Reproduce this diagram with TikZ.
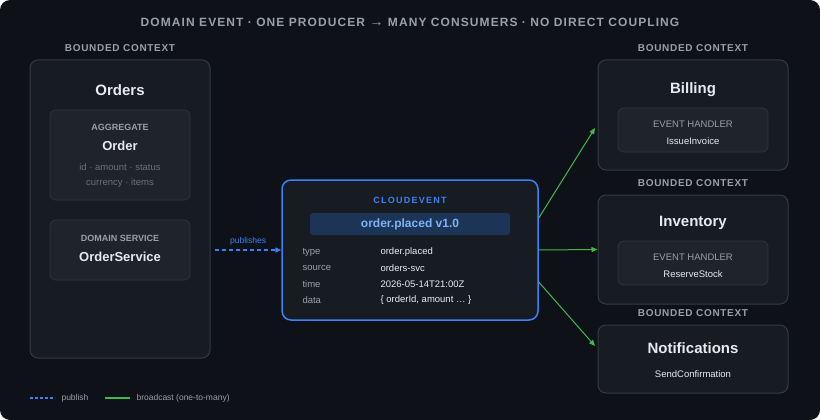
\documentclass[tikz,border=0pt]{standalone}
\usepackage{fontspec}
\setmainfont{Liberation Sans}
\usetikzlibrary{arrows.meta}
\definecolor{bg}{HTML}{0E1118}
\definecolor{ctx}{HTML}{171B22}
\definecolor{ctxb}{HTML}{353A42}
\definecolor{inner}{HTML}{1F232A}
\definecolor{innerb}{HTML}{30353D}
\definecolor{lab}{HTML}{9AA0A8}
\definecolor{dim}{HTML}{6B7179}
\definecolor{wt}{HTML}{E8EAED}
\definecolor{blu}{HTML}{3B82F6}
\definecolor{pill}{HTML}{1C3556}
\definecolor{pillt}{HTML}{7DB3F7}
\definecolor{grn}{HTML}{3FB950}
\begin{document}
\begin{tikzpicture}[x=1pt,y=-1pt,
 ctxbox/.style={draw=ctxb,fill=ctx,rounded corners=8pt,line width=1pt},
 inbox/.style={draw=innerb,fill=inner,rounded corners=6pt,line width=0.8pt},
 bclab/.style={font=\fontsize{10}{12}\selectfont\bfseries,text=lab},
 ttl/.style={font=\fontsize{15}{18}\selectfont\bfseries,text=wt},
 sub/.style={font=\fontsize{13}{15}\selectfont\bfseries,text=wt},
 kind/.style={font=\fontsize{9}{11}\selectfont\bfseries,text=lab},
 small/.style={font=\fontsize{9.5}{11}\selectfont,text=dim},
 hl/.style={font=\fontsize{9.5}{11}\selectfont,text=wt},
 key/.style={font=\fontsize{9.5}{11}\selectfont,text=lab,anchor=west},
 val/.style={font=\fontsize{9.5}{11}\selectfont,text=wt!85,anchor=west},
 bc/.style={-{Triangle[length=6pt,width=5pt]},grn,line width=1pt}]
\fill[bg,rounded corners=10pt] (0,0) rectangle (820,420);
\useasboundingbox (0,0) rectangle (820,420);
\node[font=\fontsize{12}{14}\selectfont\bfseries,text=lab] (title) at (410,22) {\addfontfeature{LetterSpace=9}DOMAIN EVENT · ONE PRODUCER {\fontsize{14}{14}\selectfont→} MANY CONSUMERS · NO DIRECT COUPLING};
% Orders
\node[bclab] (l1) at (120,48) {\addfontfeature{LetterSpace=7}BOUNDED CONTEXT};
\draw[ctxbox] (30,60) rectangle (210,358);
\node[ttl] (orders) at (120,90) {Orders};
\draw[inbox] (50,110) rectangle (190,200);
\node[kind] (agg) at (120,127) {AGGREGATE};
\node[sub] (order) at (120,146) {Order};
\node[small] (f1) at (120,167) {id · amount · status};
\node[small] (f2) at (120,183) {currency · items};
\draw[inbox] (50,220) rectangle (190,280);
\node[kind] (ds) at (120,238) {DOMAIN SERVICE};
\node[sub] (os) at (120,257) {OrderService};
\coordinate (pubs) at (215,250);
% CloudEvent
\node[draw=blu,fill=ctx,rounded corners=9pt,line width=1.5pt,minimum width=256pt,minimum height=140pt] (ce) at (410,250) {};
\node[font=\fontsize{9}{11}\selectfont\bfseries,text=blu] (cet) at (410,200) {\addfontfeature{LetterSpace=14}CLOUDEVENT};
\node[fill=pill,rounded corners=3pt,minimum width=200pt,minimum height=22pt,font=\fontsize{12}{14}\selectfont\bfseries,text=pillt] (pl) at (410,224) {order.placed v1.0};
\node[key] (k1) at (299,252) {type};   \node[val] (v1) at (377,252) {order.placed};
\node[key] (k2) at (299,268) {source}; \node[val] (v2) at (377,268) {orders-svc};
\node[key] (k3) at (299,284) {time};   \node[val] (v3) at (377,284) {2026-05-14T21:00Z};
\node[key] (k4) at (299,300) {data};   \node[val] (v4) at (377,300) {\{ orderId, amount … \}};
\draw[blu,line width=1.2pt,dash pattern=on 4pt off 3pt,-{Triangle[length=6pt,width=5pt]}] (pubs) -- (ce.west) node[midway,above=1pt,font=\fontsize{8.5}{10}\selectfont,text=blu] {publishes};
% Billing
\node[bclab] (l2) at (693,48) {\addfontfeature{LetterSpace=7}BOUNDED CONTEXT};
\node[ctxbox,minimum width=190pt,minimum height=110pt] (bill) at (693,115) {};
\node[ttl] (bt) at (693,90) {Billing};
\draw[inbox] (618,108) rectangle (768,152);
\node[hl,text=lab] (eh1) at (693,124) {EVENT HANDLER};
\node[hl] (ii) at (693,141) {IssueInvoice};
% Inventory
\node[bclab] (l3) at (693,183) {\addfontfeature{LetterSpace=7}BOUNDED CONTEXT};
\node[ctxbox,minimum width=190pt,minimum height=109pt] (inv) at (693,249.5) {};
\node[ttl] (it) at (693,223) {Inventory};
\draw[inbox] (618,241) rectangle (768,285);
\node[hl,text=lab] (eh2) at (693,257) {EVENT HANDLER};
\node[hl] (rs) at (693,274) {ReserveStock};
% Notifications
\node[bclab] (l4) at (693,313) {\addfontfeature{LetterSpace=7}BOUNDED CONTEXT};
\node[ctxbox,minimum width=190pt,minimum height=68pt] (not) at (693,359) {};
\node[ttl] (nt) at (693,348) {Notifications};
\node[hl] (sc) at (693,374) {SendConfirmation};
% broadcasts
\draw[bc] (ce.east|-0,218) -- (595,128);
\draw[bc] (ce.east) -- (inv.west);
\draw[bc] (ce.east|-0,282) -- (595,346);
% legend
\coordinate (la) at (30,398); \coordinate (lb) at (55,398);
\coordinate (lc) at (105,398); \coordinate (ld) at (130,398);
\draw[blu,line width=1.2pt,dash pattern=on 3pt off 2pt] (la) -- (lb);
\node[font=\fontsize{8.5}{10}\selectfont,text=lab,anchor=west] (lg1) at (58,398) {publish};
\draw[grn,line width=1.2pt] (lc) -- (ld);
\node[font=\fontsize{8.5}{10}\selectfont,text=lab,anchor=west] (lg2) at (133,398) {broadcast (one-to-many)};
\end{tikzpicture}
\end{document}
